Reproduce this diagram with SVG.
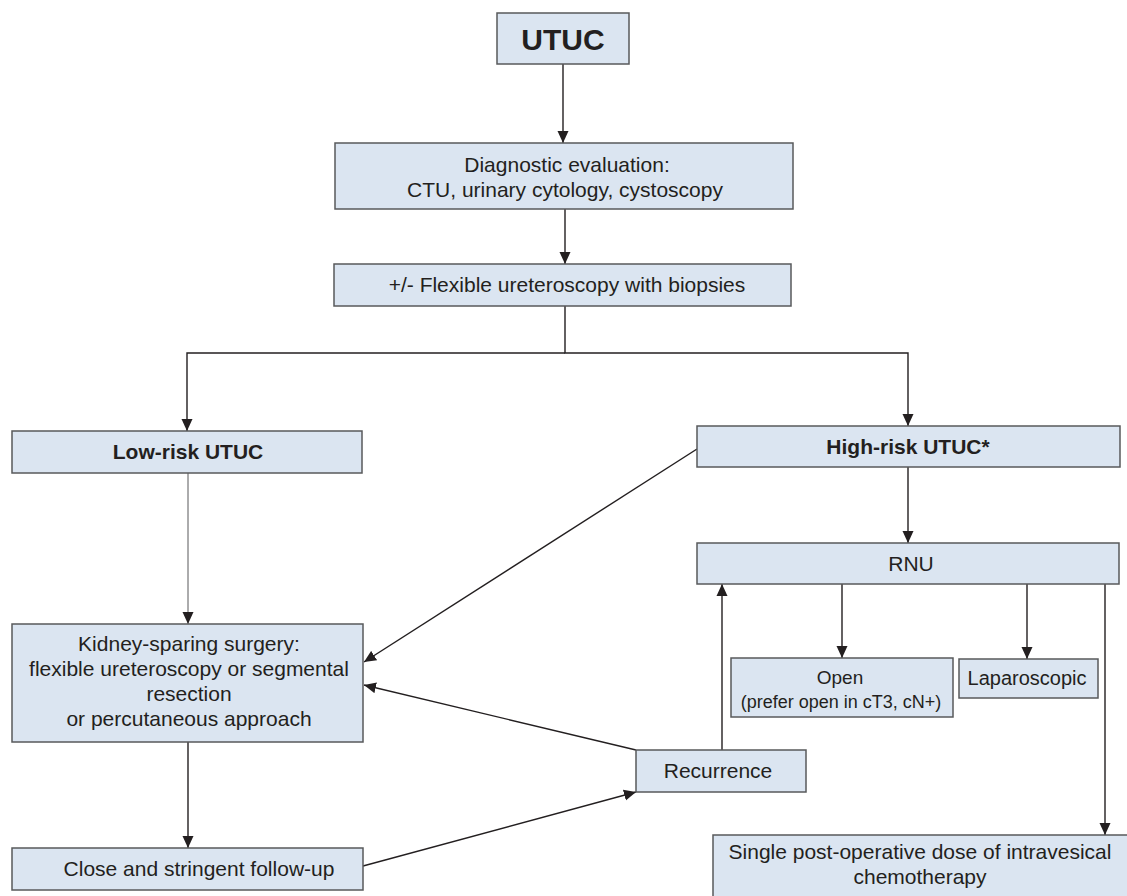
<svg xmlns="http://www.w3.org/2000/svg" width="1127" height="896" viewBox="0 0 1127 896">
<defs>
<marker id="ah" markerWidth="12" markerHeight="12" viewBox="0 0 12 12" refX="12" refY="6" orient="auto" markerUnits="userSpaceOnUse">
<path d="M0,0.5 L12,6 L0,11.5 z" fill="#231f20"/>
</marker>
<style>
.box{fill:#dbe5f1;stroke:#58595b;stroke-width:1.5}
.t{font-family:"Liberation Sans",Arial,sans-serif;font-size:21px;fill:#231f20;text-anchor:middle}
.b{font-weight:bold}
.c{fill:none;stroke:#231f20;stroke-width:1.4}
.ca{fill:none;stroke:#231f20;stroke-width:1.4;marker-end:url(#ah)}
</style>
</defs>
<rect width="1127" height="896" fill="#ffffff"/>
<g id="connectors">
<line class="ca" x1="563" y1="64" x2="563" y2="143"/>
<line class="ca" x1="565" y1="209" x2="565" y2="264"/>
<polyline class="c" points="565,306 565,353 908,353 908,426" style="marker-end:url(#ah)"/>
<polyline class="ca" points="565,353 187,353 187,431"/>
<line class="ca" x1="908" y1="467" x2="908" y2="543"/>
<line class="ca" x1="188" y1="473" x2="188" y2="624" style="stroke:#58595b;stroke-width:1"/>
<line class="ca" x1="697" y1="449" x2="364" y2="662"/>
<line class="ca" x1="636" y1="750" x2="364" y2="685"/>
<line class="ca" x1="188" y1="742" x2="188" y2="848"/>
<line class="ca" x1="363" y1="866" x2="636" y2="792"/>
<line class="ca" x1="722" y1="750" x2="722" y2="584"/>
<line class="ca" x1="842" y1="584" x2="842" y2="658"/>
<line class="ca" x1="1027" y1="584" x2="1027" y2="659"/>
<line class="ca" x1="1105" y1="584" x2="1105" y2="835"/>
</g>
<g id="utuc"><rect class="box" x="497" y="13" width="132" height="51"/><text class="t b" x="563" y="50" style="font-size:30px">UTUC</text></g>
<g id="diag"><rect class="box" x="335" y="143" width="458" height="66"/><text class="t" x="567" y="172">Diagnostic evaluation:</text><text class="t" x="565" y="197">CTU, urinary cytology, cystoscopy</text></g>
<g id="flex"><rect class="box" x="334" y="264" width="457" height="42"/><text class="t" x="567" y="292">+/- Flexible ureteroscopy with biopsies</text></g>
<g id="low"><rect class="box" x="12" y="431" width="350" height="42"/><text class="t b" x="188" y="459">Low-risk UTUC</text></g>
<g id="high"><rect class="box" x="697" y="426" width="423" height="41"/><text class="t b" x="908" y="454">High-risk UTUC*</text></g>
<g id="rnu"><rect class="box" x="697" y="543" width="422" height="41"/><text class="t" x="911" y="571">RNU</text></g>
<g id="kidney"><rect class="box" x="12" y="624" width="351" height="118"/><text class="t" x="189" y="651">Kidney-sparing surgery:</text><text class="t" x="189" y="676">flexible ureteroscopy or segmental</text><text class="t" x="189" y="701">resection</text><text class="t" x="189" y="726">or percutaneous approach</text></g>
<g id="open"><rect class="box" x="731" y="658" width="222" height="59"/><text class="t" x="840" y="684" style="font-size:19px">Open</text><text class="t" x="841" y="708" style="font-size:18px">(prefer open in cT3, cN+)</text></g>
<g id="lap"><rect class="box" x="959" y="659" width="139" height="39"/><text class="t" x="1027" y="685" style="font-size:20px">Laparoscopic</text></g>
<g id="recurrence"><rect class="box" x="636" y="750" width="170" height="42"/><text class="t" x="718" y="778">Recurrence</text></g>
<g id="followup"><rect class="box" x="12" y="848" width="351" height="42"/><text class="t" x="199" y="876">Close and stringent follow-up</text></g>
<g id="single"><rect class="box" x="713" y="835" width="420" height="70"/><text class="t" x="920" y="859">Single post-operative dose of intravesical</text><text class="t" x="920" y="884">chemotherapy</text></g>
</svg>
